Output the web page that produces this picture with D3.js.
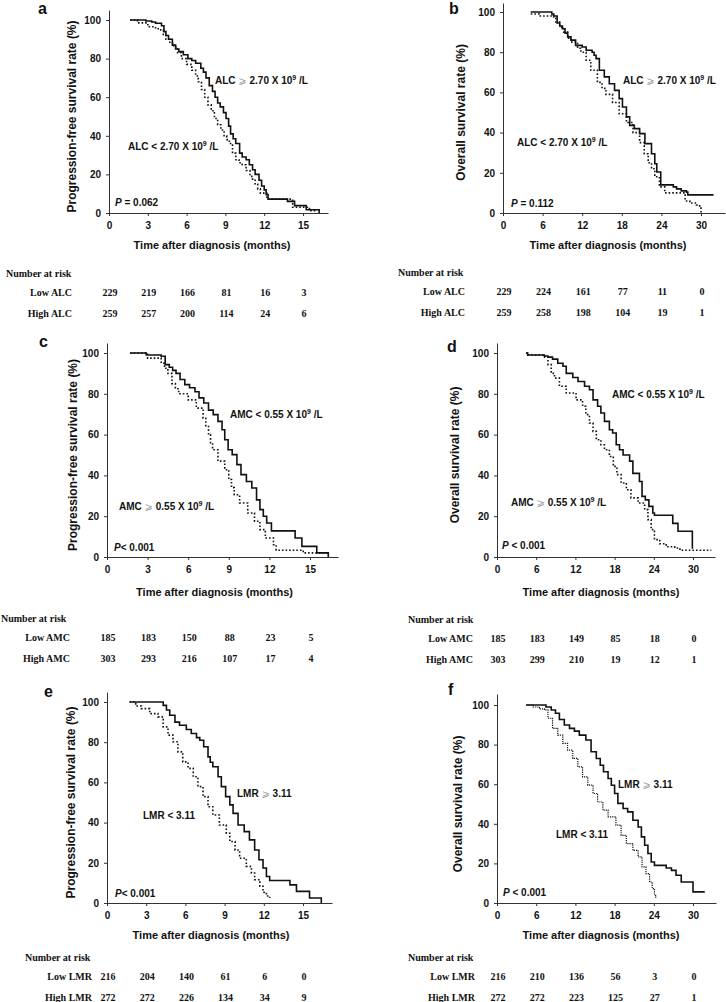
<!DOCTYPE html>
<html>
<head>
<meta charset="utf-8">
<script src="https://cdn.jsdelivr.net/npm/d3@7"></script>
<style>
  body { margin: 0; background: #fff; }
  svg { display: block; }
  .sans { font-family: "Liberation Sans", Arial, sans-serif; font-weight: bold; fill: #111; }
  .serif { font-family: "Liberation Serif", "Times New Roman", serif; font-weight: bold; fill: #111; }
  .axis path, .axis line { stroke: #333; stroke-width: 1; }
  .axis text { font-family: "Liberation Sans", Arial, sans-serif; font-weight: bold; font-size: 10px; fill: #111; }
</style>
</head>
<body>
<div id="chart"></div>
<script>
// tick labels
const pfsTicks = [0, 3, 6, 9, 12, 15];
const osTicks = [0, 6, 12, 18, 24, 30];
const survTicks = [0, 20, 40, 60, 80, 100];

// curves as [months, survival %]
const pfsAlcHigh = [[1.63,100],[2.85,99.5],[3.3,99],[3.6,98.3],[4.06,97],[4.25,94],[4.4,92],[4.6,90],[4.9,87],[5.15,85],[5.4,83.6],[5.75,82],[6.1,80],[6.4,79],[6.7,77.6],[7.1,75],[7.3,73],[7.5,70],[7.75,66],[8.0,63],[8.2,60],[8.4,57],[8.6,55],[8.85,52],[9.05,49],[9.25,45],[9.4,41],[9.6,38.5],[9.8,36],[10.1,31],[10.3,29],[10.6,27.6],[10.85,25],[11.1,22.4],[11.3,20],[11.6,17],[11.8,14],[12.0,12],[12.15,9.5],[12.3,7.2],[13.8,6],[14.35,3.8],[15.25,1.7],[16.25,0]];
const pfsAlcLow = [[1.63,100],[2.2,98.5],[3.0,96.5],[3.6,95.5],[4.0,94.8],[4.2,92],[4.4,90],[4.7,88],[5.0,86],[5.3,83],[5.6,80],[6.0,77],[6.4,74],[6.7,71],[6.9,68],[7.15,64],[7.4,60],[7.65,56],[7.9,53],[8.15,49],[8.4,45.7],[8.65,43],[8.9,40],[9.1,38],[9.3,36],[9.55,31],[9.8,27.6],[10.05,26],[10.3,25],[10.6,22],[10.9,19],[11.1,17],[11.3,15],[11.5,12.5],[11.7,10.3],[12.2,7.2],[14.2,3],[15.5,1.2],[16.0,1.2]];

const osAlcHigh = [[4.2,100],[7.4,99],[7.7,98],[8.2,94.5],[8.6,93],[9.0,91.7],[9.4,89.5],[9.8,87.6],[10.3,86],[11.0,83.4],[12.0,82.6],[12.6,81],[13.5,80],[13.8,78.5],[14.1,76.8],[14.6,71],[15.35,67.7],[16.1,64.3],[16.9,61],[17.6,56.9],[18.1,52.7],[18.7,47.8],[19.2,43.6],[19.9,42],[20.7,39.5],[21.5,34.5],[22.5,29.5],[23.0,24.5],[23.3,20.4],[23.9,14],[25.8,13],[26.3,12],[27.0,11],[27.8,10.4],[28.0,9],[31.9,9]];
const osAlcLow = [[4.2,99],[5.5,98],[7.4,97.5],[8.0,95],[8.6,92.5],[9.2,90],[9.8,87],[10.3,85],[11.3,82],[11.8,80],[12.6,76],[13.3,71],[14.3,65],[15.0,62],[15.6,59],[16.6,55],[17.6,49.4],[18.7,45],[19.7,40],[20.7,35],[21.4,29.5],[22.0,25],[22.5,22],[23.0,18],[23.7,13],[24.5,10],[27.6,6],[28.3,5],[29.3,4],[29.8,3],[30.0,0]];

const pfsAmcLow = [[1.7,100],[2.9,99],[4.0,98.4],[4.3,94.3],[4.6,93],[4.85,91.5],[5.1,90],[5.4,87],[5.75,84.5],[6.1,83],[6.5,81],[6.8,78],[7.15,75.5],[7.5,72],[7.85,69.8],[8.2,66.5],[8.5,62.4],[8.7,57.5],[8.95,52.6],[9.25,50.2],[9.6,45.3],[9.9,40.4],[10.3,37],[10.7,33.8],[11.05,28],[11.3,23.2],[11.55,20],[11.8,16.7],[12.15,12.8],[13.9,9.3],[14.4,5.2],[15.5,2],[16.35,0]];
const pfsAmcHigh = [[1.7,100],[3.0,97.5],[4.0,95],[4.25,92.5],[4.5,90],[4.8,85],[5.05,82.5],[5.3,80],[6.0,77],[6.6,73],[7.1,68],[7.3,64],[7.5,60],[7.65,56],[7.8,52.6],[8.2,47],[8.7,42.8],[9.0,38],[9.2,34],[9.4,30.5],[9.8,26.5],[10.4,21.6],[10.9,17.5],[11.3,13.4],[11.7,9.3],[12.3,6],[12.5,3.3],[14.5,2],[16.3,1.5]];

const osAmcLow = [[4.45,100],[4.7,99],[7.25,98.5],[7.8,98],[8.5,97],[9.3,95],[10.1,93.5],[10.6,90],[11.6,88],[12.4,86],[13.4,83.7],[14.15,82],[14.7,77],[15.4,73.9],[15.9,70.6],[16.45,66.5],[17.2,62.4],[17.7,60.8],[18.25,55],[18.75,52.6],[19.3,50],[20.3,47],[20.8,41],[21.8,37],[22.2,29.7],[22.7,28],[23.25,24.8],[23.85,21.6],[24.1,20.5],[26.9,16.5],[27.7,12.6],[29.9,4]];
const osAmcHigh = [[4.45,100],[4.7,99],[7.3,98],[7.8,94.3],[8.3,90],[8.8,87.7],[9.55,83.7],[10.6,80.4],[12.1,77],[13.1,73.9],[13.6,69.8],[14.15,65.7],[14.7,61.6],[15.2,57.5],[15.9,55],[16.45,52.6],[17.2,49.3],[17.8,44.4],[18.35,40.4],[19.0,36.3],[19.8,33],[20.5,29],[21.6,26.5],[22.6,23.2],[23.1,18.3],[23.6,13.4],[24.1,8.5],[24.9,6.5],[25.9,5],[27.2,4.4],[28.0,3.3],[32.8,3.3]];

const pfsLmrHigh = [[1.73,100],[4.08,100],[4.3,98.3],[4.55,96],[4.8,93.4],[5.2,90],[5.55,88.4],[6.07,86.3],[6.45,84.3],[6.85,82.3],[7.1,81],[7.4,77.7],[7.73,72.7],[7.9,70],[8.1,67.8],[8.5,62.8],[8.75,57.9],[9.08,52.9],[9.4,48.8],[9.65,44.6],[10.03,38.8],[10.5,35.5],[10.9,31.4],[11.3,26.4],[11.63,21.5],[11.94,17.4],[12.2,13.2],[12.45,11.2],[14.0,9],[14.5,5.8],[15.5,2.5],[16.4,0]];
const pfsLmrLow = [[1.73,100],[2.2,98],[2.63,96.7],[3.27,94.2],[3.9,92.6],[4.3,87.6],[4.67,83.5],[5.05,80.2],[5.43,75.2],[5.8,70.2],[6.2,67],[6.6,62.8],[6.96,57.9],[7.35,52.9],[7.73,47.9],[8.1,43.8],[8.6,38.8],[9.13,34.7],[9.4,30.6],[9.8,26.4],[10.15,22.3],[10.66,18.2],[11.05,14.9],[11.3,11.6],[11.7,8.3],[11.94,5.3],[12.2,3.5],[12.45,2.5]];

const osLmrHigh = [[4.45,100],[7.25,100],[7.5,99],[8.3,97.5],[8.95,95.8],[9.55,92.7],[10.3,89.9],[11.1,88.2],[11.85,86.8],[12.6,84.8],[13.6,82.3],[14.4,76.4],[15.2,73],[15.8,69.6],[16.3,66.3],[17.0,62.9],[17.5,59.5],[18.0,55.3],[18.5,50.3],[19.3,47.7],[20.0,46],[20.8,41.8],[21.6,38.4],[22.1,33.4],[22.6,29.2],[23.1,25],[23.6,20.7],[24.1,19],[25.9,17.7],[26.7,16.5],[27.4,14],[28.2,10.6],[30.0,5.6],[31.8,5.6]];
const osLmrLow = [[4.45,100],[5.5,99],[6.5,98],[7.25,97.5],[7.8,93.3],[8.5,88.2],[9.3,84.8],[10.07,80.6],[10.8,77.2],[11.6,73],[12.37,68.8],[13.1,63.7],[13.9,59.5],[14.7,55.3],[15.4,51],[16.2,46.9],[17.0,43.5],[18.2,39.3],[19.0,34.2],[19.8,30],[20.8,26.6],[21.6,23.3],[22.2,18.2],[22.8,14.8],[23.35,10.6],[23.75,7.3],[24.1,3.9],[24.3,2.5]];

// number at risk
const riskPfsAlc = { low: [229, 219, 166, 81, 16, 3], high: [259, 257, 200, 114, 24, 6] };
const riskOsAlc = { low: [229, 224, 161, 77, 11, 0], high: [259, 258, 198, 104, 19, 1] };
const riskPfsAmc = { low: [185, 183, 150, 88, 23, 5], high: [303, 293, 216, 107, 17, 4] };
const riskOsAmc = { low: [185, 183, 149, 85, 18, 0], high: [303, 299, 210, 19, 12, 1] };
const riskPfsLmr = { low: [216, 204, 140, 61, 6, 0], high: [272, 272, 226, 134, 34, 9] };
const riskOsLmr = { low: [216, 210, 136, 56, 3, 0], high: [272, 272, 223, 125, 27, 1] };

const pfsTitle = "Progression-free survival rate (%)";
const osTitle = "Overall survival rate (%)";
const xTitle = "Time after diagnosis (months)";

const panels = [
  { letter: "a", lx: 38, ly: 14, x0: 109, xAt: 303, xEnd: 328, y0: 213, y100: 20, yTop: 10, ticks: pfsTicks,
    yTitle: pfsTitle, ytx: 72, solid: pfsAlcHigh, dotted: pfsAlcLow, risk: riskPfsAlc, rowNames: ["Low ALC", "High ALC"],
    tx: 6, tRight: 72, tY: 277, xtY: 249,
    labels: [[215, 84, "ALC ⩾ 2.70 X 10^9 /L"], [128, 150, "ALC < 2.70 X 10^9 /L"]], p: [115, 206, " = 0.062"] },
  { letter: "b", lx: 449, ly: 14, x0: 503, xAt: 701, xEnd: 725, y0: 213, y100: 12, yTop: 3, ticks: osTicks,
    yTitle: osTitle, ytx: 461, solid: osAlcHigh, dotted: osAlcLow, risk: riskOsAlc, rowNames: ["Low ALC", "High ALC"],
    tx: 398, tRight: 465, tY: 276, xtY: 249,
    labels: [[623, 84, "ALC ⩾ 2.70 X 10^9 /L"], [517, 146, "ALC < 2.70 X 10^9 /L"]], p: [511, 207, " = 0.112"] },
  { letter: "c", lx: 39, ly: 347, x0: 107, xAt: 310, xEnd: 338, y0: 557, y100: 353, yTop: 343, ticks: pfsTicks,
    yTitle: pfsTitle, ytx: 73, solid: pfsAmcLow, dotted: pfsAmcHigh, risk: riskPfsAmc, rowNames: ["Low AMC", "High AMC"],
    tx: 1, tRight: 70, tY: 622, xtY: 596,
    labels: [[230, 418, "AMC < 0.55 X 10^9 /L"], [119, 510, "AMC ⩾ 0.55 X 10^9 /L"]], p: [114, 551, "< 0.001"] },
  { letter: "d", lx: 447, ly: 352, x0: 497, xAt: 693, xEnd: 715, y0: 557, y100: 353, yTop: 343, ticks: osTicks,
    yTitle: osTitle, ytx: 455, solid: osAmcLow, dotted: osAmcHigh, risk: riskOsAmc, rowNames: ["Low AMC", "High AMC"],
    tx: 408, tRight: 473, tY: 623, xtY: 596,
    labels: [[612, 398, "AMC < 0.55 X 10^9 /L"], [511, 506, "AMC ⩾ 0.55 X 10^9 /L"]], p: [502, 549, " < 0.001"] },
  { letter: "e", lx: 44, ly: 697, x0: 107, xAt: 303, xEnd: 332, y0: 903, y100: 702, yTop: 692, ticks: pfsTicks,
    yTitle: pfsTitle, ytx: 71, solid: pfsLmrHigh, dotted: pfsLmrLow, risk: riskPfsLmr, rowNames: ["Low LMR", "High LMR"],
    tx: 25, tRight: 92, tY: 961, xtY: 939,
    labels: [[237, 797, "LMR ⩾ 3.11"], [143, 819, "LMR < 3.11"]], p: [115, 897, "< 0.001"] },
  { letter: "f", lx: 448, ly: 695, x0: 497, xAt: 693, xEnd: 716, y0: 903, y100: 705, yTop: 694, ticks: osTicks,
    yTitle: osTitle, ytx: 458, solid: osLmrHigh, dotted: osLmrLow, fine: true, risk: riskOsLmr, rowNames: ["Low LMR", "High LMR"],
    tx: 408, tRight: 475, tY: 961, xtY: 939,
    labels: [[618, 788, "LMR ⩾ 3.11"], [556, 838, "LMR < 3.11"]], p: [503, 896, " < 0.001"] }
];

const svg = d3.select("#chart").append("svg")
  .attr("width", 726)
  .attr("height", 1002);

function addLabel(g, x, y, str) {
  const t = g.append("text").attr("class", "sans").attr("x", x).attr("y", y).style("font-size", "10px");
  const parts = str.split(/(⩾|\^9)/).filter(s => s.length);
  let raised = false;
  parts.forEach(s => {
    if (s === "⩾") {
      t.append("tspan").text("⩾").style("font-family", "DejaVu Sans").style("font-weight", "normal").style("fill", "#999");
    } else if (s === "^9") {
      t.append("tspan").text("9").attr("dy", -4).style("font-size", "7px");
      raised = true;
    } else {
      const sp = t.append("tspan").text(s);
      if (raised) { sp.attr("dy", 4); raised = false; }
    }
  });
}

panels.forEach(p => {
  const g = svg.append("g");
  const lastTick = p.ticks[p.ticks.length - 1];
  const xMax = lastTick * (p.xEnd - p.x0) / (p.xAt - p.x0);
  const yMax = 100 * (p.y0 - p.yTop) / (p.y0 - p.y100);

  const x = d3.scaleLinear().domain([0, xMax]).range([p.x0, p.xEnd]);
  const y = d3.scaleLinear().domain([0, yMax]).range([p.y0, p.yTop]);

  g.append("g").attr("class", "axis")
    .attr("transform", `translate(0,${p.y0})`)
    .call(d3.axisBottom(x).tickValues(p.ticks).tickSize(3).tickSizeOuter(0).tickPadding(6));
  g.append("g").attr("class", "axis")
    .attr("transform", `translate(${p.x0},0)`)
    .call(d3.axisLeft(y).tickValues(survTicks).tickSize(3).tickSizeOuter(0).tickPadding(5));

  const line = d3.line().x(d => x(d[0])).y(d => y(d[1])).curve(d3.curveStepAfter);

  g.append("path").datum(p.dotted)
    .attr("d", line).attr("fill", "none").attr("stroke", "#111")
    .attr("stroke-width", p.fine ? 1.2 : 1.6)
    .attr("stroke-dasharray", p.fine ? "1.2,1" : "1.6,2");
  g.append("path").datum(p.solid)
    .attr("d", line).attr("fill", "none").attr("stroke", "#111").attr("stroke-width", 1.6);

  // panel letter
  g.append("text").attr("class", "sans").attr("x", p.lx).attr("y", p.ly)
    .style("font-size", "16px").text(p.letter);

  // y title
  const yMid = (y(0) + y(100)) / 2;
  g.append("text").attr("class", "sans")
    .attr("transform", `translate(${p.ytx},${yMid}) rotate(-90)`)
    .attr("text-anchor", "middle").attr("dominant-baseline", "central")
    .style("font-size", "12px").text(p.yTitle);

  // x title
  g.append("text").attr("class", "sans")
    .attr("x", (x(0) + x(lastTick)) / 2 + 6).attr("y", p.xtY)
    .attr("text-anchor", "middle").style("font-size", "11px").text(xTitle);

  p.labels.forEach(l => addLabel(g, l[0], l[1], l[2]));

  const pt = g.append("text").attr("class", "sans").attr("x", p.p[0]).attr("y", p.p[1]).style("font-size", "10px");
  pt.append("tspan").style("font-style", "italic").text("P");
  pt.append("tspan").text(p.p[2]);

  // number at risk table
  g.append("text").attr("class", "serif").attr("x", p.tx).attr("y", p.tY)
    .style("font-size", "10px").text("Number at risk");
  const rowY = [p.tY + 19, p.tY + 40];
  [p.risk.low, p.risk.high].forEach((vals, r) => {
    g.append("text").attr("class", "serif").attr("x", p.tRight).attr("y", rowY[r])
      .attr("text-anchor", "end").style("font-size", "10px").text(p.rowNames[r]);
    g.selectAll(null).data(vals).enter().append("text")
      .attr("class", "serif")
      .attr("x", (d, i) => x(p.ticks[i]) + 1)
      .attr("y", rowY[r])
      .attr("text-anchor", "middle")
      .style("font-size", "10px")
      .text(d => d);
  });
});
</script>
</body>
</html>
